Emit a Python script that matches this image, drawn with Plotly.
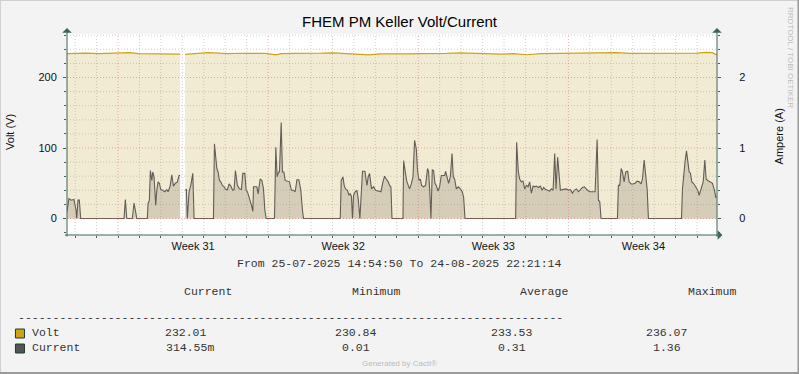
import plotly.graph_objects as go
import pandas as pd

# ---------------- data ----------------
START = "2025-07-25 14:54:50"
END = "2025-08-24 22:21:14"

# Volt series: hours since START, volts (None = unknown / gap)
volt_hours = [0, 5, 12, 22, 35, 50, 62, 70, 80, 95, 110, 122, 126.6, 129,
              132.2, 140, 150, 158, 168, 180, 195, 210, 222, 234, 240, 255,
              270, 285, 298, 310, 322, 338, 350, 365, 380, 395, 410, 425,
              440, 455, 470, 485, 500, 515, 530, 545, 560, 575, 590, 605,
              615, 630, 645, 660, 675, 690, 705, 715, 722, 727.2]
volt_values = [233.8, 234.2, 233.9, 234.5, 234.0, 234.6, 235.5, 235.4, 234.0,
               233.6, 234.0, 233.4, 233.2, None,
               232.8, 234.0, 234.5, 235.2, 234.3, 233.8, 234.4, 233.9, 234.3,
               232.1, 233.8, 234.3, 233.9, 234.5, 235.0, 234.0, 233.5, 232.2,
               233.6, 234.1, 233.6, 234.0, 233.7, 234.2, 234.8, 234.3, 233.7,
               233.2, 233.8, 232.3, 233.8, 234.0, 234.6, 233.9, 234.3, 234.8,
               235.4, 234.2, 234.4, 233.9, 234.5, 234.1, 234.7, 235.6, 235.3,
               232.0]

# Current series: hours since START, ampere (None = unknown / gap)
amp_hours = [
    0, 2.2, 4.8, 7.8, 10.1, 10.9, 12.3, 13.8, 15.3, 63.8, 65.3, 66.9, 73.1,
    75.0, 76.5, 78.1, 89.9, 90.7, 92.2, 93.3, 94.9, 96.0, 97.4, 99.3, 100.5,
    101.9, 103.4, 104.9, 107.2, 109.4, 111.7, 113.1, 115.4, 117.3, 119.1,
    121.3, 123.5, 125.4, 126.6, 129,
    132.5, 133.6, 134.7, 136.6, 138.5, 140.8, 142.2, 163.9, 165.0, 167.7,
    169.1, 170.6, 172.1, 173.9, 175.8, 177.7, 179.5, 181.4, 183.3, 185.4,
    187.0, 188.5, 190.7, 193.0, 195.2, 196.8, 199.0, 200.5, 201.9, 203.5,
    205.0, 206.4, 208.0, 208.7, 210.9, 212.5, 213.9, 216.2, 218.1, 219.9,
    221.4, 222.9, 232.2, 233.7, 235.2, 236.7, 237.8, 239.7, 241.1, 242.7,
    244.2, 246.7, 249.0, 251.2, 253.5, 255.4, 257.3, 259.5, 261.7, 263.5,
    264.7, 305.8, 306.9, 308.8, 310.2, 311.7, 313.9, 315.5, 317.0, 318.4,
    319.5, 320.7, 322.6, 324.5, 325.9, 327.8, 329.6, 330.7, 333.4, 335.7,
    337.1, 338.6, 340.8, 343.1, 345.3, 347.5, 349.8, 351.3, 353.6, 355.4,
    357.3, 359.5, 361.0, 362.5, 363.7, 376.0, 376.7, 378.6, 380.0, 381.9,
    383.4, 385.3, 387.2, 389.0, 390.9, 392.3, 393.9, 395.4, 396.8, 399.1,
    401.3, 403.5, 404.7, 406.2, 407.3, 408.8, 410.3, 411.8, 413.3, 415.2,
    417.0, 418.9, 420.8, 422.6, 423.7, 425.3, 427.1, 429.0, 430.9, 432.3,
    433.8, 435.7, 437.9, 440.2, 442.4, 443.9, 445.4, 502.1, 503.2, 505.1,
    506.6, 508.5, 510.4, 512.2, 514.1, 516.0, 517.8, 519.7, 521.6, 523.4,
    525.3, 527.5, 529.8, 531.7, 533.5, 535.7, 537.9, 540.2, 542.1, 544.0,
    545.8, 547.3, 549.1, 550.7, 552.2, 554.4, 556.6, 558.9, 561.1, 563.4,
    565.6, 567.8, 570.1, 572.3, 574.6, 576.8, 579.0, 581.3, 583.5, 585.8,
    588.0, 591.0, 593.3, 594.7, 596.2, 597.7, 616.0, 617.1, 618.6, 620.2,
    621.6, 623.5, 625.3, 627.5, 629.1, 631.3, 633.6, 635.8, 638.1, 640.3,
    642.5, 644.0, 645.9, 647.7, 649.3, 650.7, 687.7, 688.8, 690.3, 691.8,
    693.3, 694.7, 696.3, 697.8, 699.2, 701.1, 703.0, 704.5, 705.9, 707.5,
    709.0, 710.4, 712.0, 713.8, 715.3, 717.1, 719.4, 722.4, 724.6, 726.1,
    727.2]
amp_values = [
    0.10, 0.28, 0.26, 0.27, 0.12, 0, 0.26, 0.26, 0, 0, 0.27, 0, 0,
    0.22, 0.12, 0, 0, 0.21, 0.26, 0.68, 0.54, 0.66, 0.59, 0.19, 0.40,
    0.52, 0.50, 0.41, 0.40, 0.38, 0.41, 0.38, 0.46, 0.62, 0.46,
    0.50, 0.52, 0.61, 0.61, None,
    0.41, 0.41, 0, 0.38, 0.47, 0.64, 0, 0, 1.06, 0.71,
    0.66, 0.54, 0.52, 0.47, 0.45, 0.41, 0.41, 0.49, 0.46, 0.40,
    0.41, 0.68, 0.47, 0.42, 0.41, 0.64, 0.64, 0.40, 0.38, 0.32,
    0.26, 0.19, 0.10, 0.45, 0.45, 0.45, 0.35, 0.56, 0.54, 0.42,
    0.12, 0, 0, 1.01, 0.59, 0.66, 0.66, 1.36, 0.66, 0.66,
    0.54, 0.53, 0.52, 0.40, 0.40, 0.38, 0.55, 0.55, 0.40, 0.12,
    0, 0, 0.54, 0.59, 0.47, 0.42, 0.40, 0.33, 0.35, 0.31,
    0, 0.33, 0.38, 0.40, 0.28, 0, 0.47, 0.67, 0.67, 0.47,
    0.59, 0.64, 0.42, 0.45, 0.40, 0.39, 0.38, 0.38, 0.52, 0.60,
    0.56, 0.52, 0.47, 0.45, 0, 0, 0.82, 0.66, 0.54, 0.47,
    0.42, 0.49, 0.59, 1.11, 0.99, 0.68, 0.54, 0.56, 0.47, 0.45,
    0.47, 0.71, 0.66, 0.33, 0, 0.69, 0.68, 0.50, 0.47, 0.39,
    0.45, 0.61, 0.61, 0.61, 0.67, 0.59, 0.50, 0.59, 0.92, 0.59,
    0.56, 0.42, 0.45, 0.42, 0.38, 0.30, 0, 0, 1.08, 0.66,
    0.56, 0.52, 0.53, 0.42, 0.47, 0.45, 0.52, 0.36, 0.46, 0.45,
    0.46, 0.44, 0.46, 0.40, 0.44, 0.41, 0.40, 0.39, 0.42, 0.40,
    0.92, 0.42, 0.87, 0.56, 0.40, 0.41, 0.42, 0.42, 0.40, 0.41,
    0.36, 0.40, 0.42, 0.38, 0.41, 0.44, 0.45, 0.42, 0.39, 0.38,
    0.38, 0.38, 1.12, 0.26, 0.24, 0, 0, 0.47, 0.47, 0.71,
    0.66, 0.52, 0.66, 0.67, 0.52, 0.49, 0.49, 0.50, 0.53, 0.52,
    0.49, 0.56, 0.83, 0.59, 0.41, 0, 0, 0.42, 0.68, 0.82,
    0.96, 0.79, 0.66, 0.64, 0.52, 0.50, 0.46, 0.41, 0.40, 0.33,
    0.40, 0.47, 0.52, 0.83, 0.56, 0.54, 0.52, 0.50, 0.40, 0.30,
    0.31]

week_labels = ["Week 31", "Week 32", "Week 33", "Week 34"]
week_centers = ["2025-07-31 12:00", "2025-08-07 12:00",
                "2025-08-14 12:00", "2025-08-21 12:00"]

volt_ticks = [0, 100, 200]
amp_ticks = [0, 1, 2]

title_text = "FHEM PM Keller Volt/Current"
period_text = "From 25-07-2025 14:54:50 To 24-08-2025 22:21:14"
stat_headers = ["Current", "Minimum", "Average", "Maximum"]
legend_names = ["Volt", "Current"]
volt_stats = ["232.01", "230.84", "233.53", "236.07"]
amp_stats = ["314.55m", "0.01", "0.31", "1.36"]

# ---------------- geometry / style ----------------
W, H = 799, 374
L, R, T, B = 67, 82.4, 34, 139
PW, PH = W - L - R, H - T - B

def px(x):
    return (x - L) / PW

def py(y):
    return (T + PH - y) / PH

start = pd.Timestamp(START)
end = pd.Timestamp(END)

def segments(hours, values):
    """Split a series at unknown (None) values so areas do not bridge gaps."""
    segs, cur_h, cur_v = [], [], []
    for h, v in zip(hours, values):
        if v is None:
            if cur_h:
                segs.append((cur_h, cur_v))
            cur_h, cur_v = [], []
        else:
            cur_h.append(h)
            cur_v.append(v)
    if cur_h:
        segs.append((cur_h, cur_v))
    return [(start + pd.to_timedelta(h, unit="h"), v) for h, v in segs]

VOLT_LINE = "#CFA317"
VOLT_FILL = "#F2EBD3"
AMP_LINE = "#625D57"
AMP_FILL = "#D5CDB8"
AXIS_COL = "#3F6659"
SANS = "Liberation Sans, Arial, sans-serif"
MONO = "Liberation Mono, Courier New, monospace"

Y_RANGE = [-23.4, 261.7]

fig = go.Figure()
for t, v in segments(volt_hours, volt_values):
    fig.add_trace(go.Scatter(
        x=t, y=v, mode="lines", fill="tozeroy",
        fillcolor=VOLT_FILL, line=dict(color=VOLT_LINE, width=1.2),
        xaxis="x", yaxis="y", hoverinfo="skip", showlegend=False))
for t, v in segments(amp_hours, amp_values):
    fig.add_trace(go.Scatter(
        x=t, y=v, mode="lines", fill="tozeroy",
        fillcolor=AMP_FILL, line=dict(color=AMP_LINE, width=1.1),
        xaxis="x2", yaxis="y2", hoverinfo="skip", showlegend=False))

days = pd.date_range("2025-07-26", "2025-08-24", freq="D")
mondays = [d for d in days if d.weekday() == 0]
shapes = []
# grid (drawn above the areas, like rrdtool)
for d in days:
    major = d.weekday() == 0
    shapes.append(dict(type="line", xref="x", yref="paper", x0=d, x1=d, y0=0, y1=1,
                       layer="above",
                       line=dict(color="rgba(225,90,90,0.5)" if major else "rgba(140,140,140,0.42)",
                                 width=1, dash="1px,2px")))
for v in range(0, 261, 20):
    major = v % 100 == 0
    shapes.append(dict(type="line", xref="paper", yref="y", x0=0, x1=1, y0=v, y1=v,
                       layer="above",
                       line=dict(color="rgba(225,90,90,0.5)" if major else "rgba(140,140,140,0.42)",
                                 width=1, dash="1px,2px")))

# figure border
shapes += [
    dict(type="line", xref="paper", yref="paper", x0=px(0), x1=px(W), y0=py(0.5), y1=py(0.5),
         line=dict(color="#CFCFCF", width=1)),
    dict(type="line", xref="paper", yref="paper", x0=px(0.5), x1=px(0.5), y0=py(0), y1=py(H),
         line=dict(color="#CFCFCF", width=1)),
    dict(type="line", xref="paper", yref="paper", x0=px(0), x1=px(W), y0=py(H - 1), y1=py(H - 1),
         line=dict(color="#9A9A9A", width=2)),
    dict(type="line", xref="paper", yref="paper", x0=px(W - 1), x1=px(W - 1), y0=py(0), y1=py(H),
         line=dict(color="#9A9A9A", width=2)),
]
# legend colour boxes
for i, col in enumerate([VOLT_LINE, "#555555"]):
    y0 = 329 + 15 * i
    shapes.append(dict(type="rect", xref="paper", yref="paper",
                       x0=px(15.5), x1=px(24.5), y0=py(y0), y1=py(y0 + 9),
                       fillcolor=col, line=dict(color="#1F3B33", width=1)))

annotations = []
# axis lines with arrows
arrow = dict(text="", showarrow=True, arrowhead=1, arrowsize=1.6, arrowwidth=1,
             arrowcolor=AXIS_COL, xref="paper", yref="paper", axref="pixel", ayref="pixel",
             standoff=0, startstandoff=0)
annotations.append(dict(arrow, x=0, y=py(28), ax=0, ay=210))
annotations.append(dict(arrow, x=1, y=py(28), ax=0, ay=210))
annotations.append(dict(arrow, x=px(722), y=0, ax=-659, ay=0))

def txt(x, y, s, size=11.5, color="#333333", font=MONO, angle=0, xanchor="center"):
    annotations.append(dict(text=s, x=px(x), y=py(y), xref="paper", yref="paper",
                            showarrow=False, xanchor=xanchor, yanchor="middle",
                            textangle=angle, font=dict(family=font, size=size, color=color)))

txt(10, 132, "Volt (V)", size=11, color="#111111", font=SANS, angle=-90)
txt(779, 136, "Ampere (A)", size=11, color="#111111", font=SANS, angle=-90)
txt(790.5, 58, "RRDTOOL / TOBI OETIKER", size=8, color="#BDBDBD", font=SANS, angle=90)
txt(399, 263, period_text)
for cx, s in zip([208, 376, 544, 712], stat_headers):
    txt(cx, 291, s)
txt(16, 317, "-" * 79, xanchor="left")
txt(30, 332, legend_names[0], xanchor="left")
txt(30, 347, legend_names[1], xanchor="left")
for cx, s in zip([186, 356, 512, 666], volt_stats):
    txt(cx, 332, s)
for cx, s in zip([189.5, 355.5, 511.5, 667], amp_stats):
    txt(cx, 347, s)
txt(399, 363, "Generated by Cacti®", size=8, color="#BBBBBB", font=SANS)

tickfont = dict(family=SANS, size=11, color="#111111")
fig.update_layout(
    width=W, height=H,
    margin=dict(l=L, r=R, t=T, b=B, pad=0),
    paper_bgcolor="#F3F3F3", plot_bgcolor="#FFFFFF",
    title=dict(text=title_text, x=0.5, xref="container", xanchor="center",
               y=1 - 22 / H, yref="container", yanchor="middle",
               font=dict(family=SANS, size=15, color="#000000")),
    xaxis=dict(type="date", range=[start, end], showgrid=False, zeroline=False,
               showline=False, tickmode="array", tickvals=mondays,
               ticktext=[""] * len(mondays), ticks="outside", ticklen=3,
               tickcolor=AXIS_COL,
               minor=dict(tickmode="array", tickvals=list(days), ticks="outside",
                          ticklen=2, tickcolor=AXIS_COL, showgrid=False)),
    xaxis2=dict(type="date", range=[start, end], overlaying="x", side="bottom",
                showgrid=False, zeroline=False, showline=False, tickmode="array",
                tickvals=week_centers, ticktext=week_labels, ticks="",
                tickfont=tickfont, ticklabelstandoff=3),
    yaxis=dict(range=Y_RANGE, showgrid=False, zeroline=False, showline=False,
               tickmode="array", tickvals=volt_ticks, ticks="outside", ticklen=3,
               tickcolor=AXIS_COL, tickfont=tickfont, ticklabelstandoff=4,
               minor=dict(dtick=20, tick0=0, ticks="outside", ticklen=2,
                          tickcolor=AXIS_COL, showgrid=False)),
    yaxis2=dict(range=[Y_RANGE[0] / 100, Y_RANGE[1] / 100], overlaying="y", side="right",
                showgrid=False, zeroline=False, showline=False, tickmode="array",
                tickvals=amp_ticks, ticks="outside", ticklen=3, tickcolor=AXIS_COL,
                tickfont=tickfont, ticklabelstandoff=16,
                minor=dict(dtick=0.2, tick0=0, ticks="outside", ticklen=2,
                           tickcolor=AXIS_COL, showgrid=False)),
    shapes=shapes,
    annotations=annotations,
)

fig.write_html("out.html", config={"displayModeBar": False},
               post_script="document.body.style.margin='0';document.body.style.padding='0';"
                           "document.body.style.overflow='hidden';")
